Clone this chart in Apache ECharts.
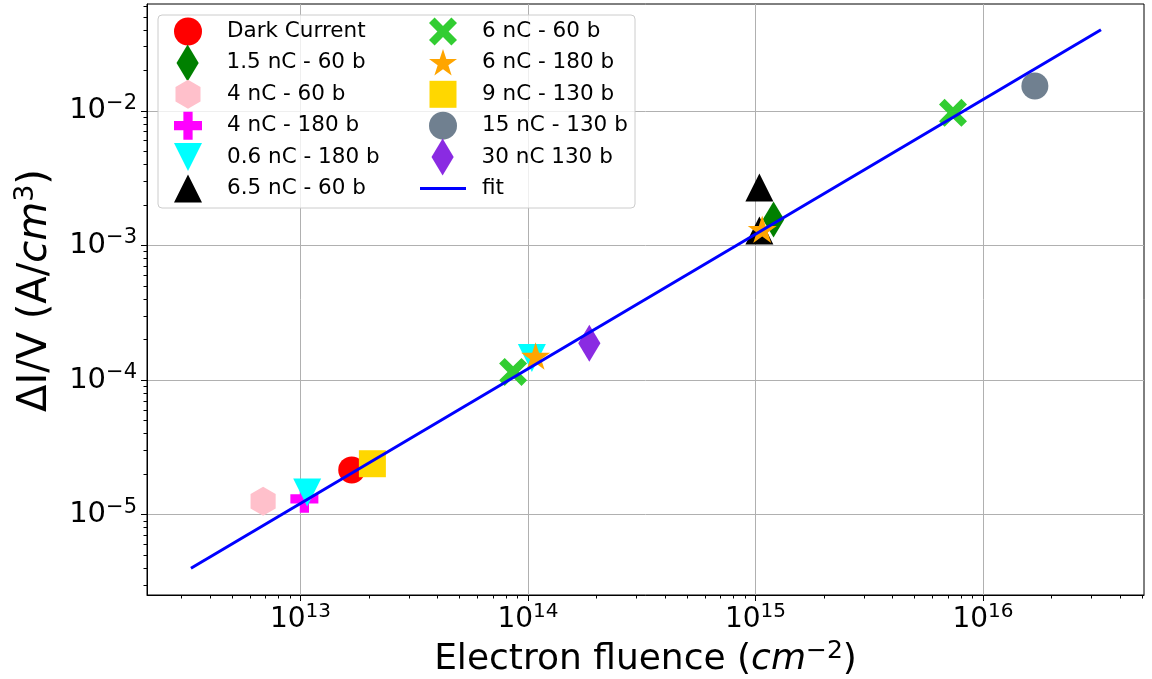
<!DOCTYPE html>
<html><head><meta charset="utf-8">
<script src="https://cdn.jsdelivr.net/npm/echarts@6/dist/echarts.min.js"></script>
<style>html,body{margin:0;padding:0;background:#fff}#c{width:1152px;height:679px}</style>
</head><body><div id="c"></div>
<script>
// ---- data ----
const darkCurrent   = [[1.68e13, 2.15e-5]];
const nc15_60       = [[1.20e15, 1.56e-3]];
const nc4_60        = [[6.85e12, 1.26e-5]];
const nc4_180       = [[1.04e13, 1.31e-5]];
const nc06_180      = [[1.07e13, 1.46e-5], [1.04e14, 1.46e-4]];
const nc65_60       = [[1.04e15, 2.69e-3], [1.04e15, 1.29e-3]];
const nc6_60        = [[8.60e13, 1.15e-4], [7.38e15, 9.67e-3]];
const nc6_180       = [[1.08e14, 1.51e-4], [1.07e15, 1.32e-3]];
const nc9_130       = [[2.07e13, 2.39e-5]];
const nc15_130      = [[1.69e16, 1.53e-2]];
const nc30_130      = [[1.86e14, 1.88e-4]];
const fitLine       = [[3.3e12, 4.0e-6], [3.3e16, 4.0e-2]];

const xMajorTicks = [1e13, 1e14, 1e15, 1e16];
const yMajorTicks = [1e-5, 1e-4, 1e-3, 1e-2];
const xMin = 2.115e12, xMax = 5.10e16;
const yMin = 2.53e-6, yMax = 0.0622;

function minorTicks(lo, hi) {
  const out = [];
  for (let e = Math.floor(Math.log10(lo)); e <= Math.ceil(Math.log10(hi)); e++) {
    for (let k = 2; k <= 9; k++) {
      const v = k * Math.pow(10, e);
      if (v >= lo && v <= hi) out.push(v);
    }
  }
  return out;
}
const xMinorTicks = minorTicks(xMin, xMax);
const yMinorTicks = minorTicks(yMin, yMax);

// ---- marker shapes ----
const P_HEX = 'path://M0,-1L0.866,-0.5L0.866,0.5L0,1L-0.866,0.5L-0.866,-0.5Z';
const P_DIAM = 'path://M0,-1L0.6,0L0,1L-0.6,0Z';
const P_PLUS = 'path://M-0.33,-1L0.33,-1L0.33,-0.33L1,-0.33L1,0.33L0.33,0.33L0.33,1L-0.33,1L-0.33,0.33L-1,0.33L-1,-0.33L-0.33,-0.33Z';
const P_X = 'path://M0,0.2L0.2,0L0.5,0.3L0.8,0L1,0.2L0.7,0.5L1,0.8L0.8,1L0.5,0.7L0.2,1L0,0.8L0.3,0.5Z';
const P_STAR = 'path://M0,-1L0.2245,-0.309L0.9511,-0.309L0.3633,0.118L0.5878,0.809L0,0.382L-0.5878,0.809L-0.3633,0.118L-0.9511,-0.309L-0.2245,-0.309Z';
const P_TRIDOWN = 'path://M0,0L1,0L0.5,1Z';

const FONT = 'DejaVu Sans';

function sc(name, data, symbol, size, color) {
  return {
    name, type: 'scatter', data, symbol, symbolSize: size, symbolKeepAspect: true,
    itemStyle: { color, opacity: 1 }, emphasis: { disabled: true }, z: 2
  };
}

const series = [
  sc('Dark Current', darkCurrent, 'circle', 27, '#ff0000'),
  sc('1.5 nC - 60 b', nc15_60, P_DIAM, 36, '#008000'),
  sc('4 nC - 60 b', nc4_60, P_HEX, 29, '#ffc0cb'),
  sc('4 nC - 180 b', nc4_180, P_PLUS, 28, '#ff00ff'),
  sc('0.6 nC - 180 b', nc06_180, P_TRIDOWN, 28, '#00ffff'),
  sc('6.5 nC - 60 b', nc65_60, 'triangle', 28, '#000000'),
  sc('6 nC - 60 b', nc6_60, P_X, 28, '#32cd32'),
  sc('6 nC - 180 b', nc6_180, P_STAR, 29, '#ffa500'),
  sc('9 nC - 130 b', nc9_130, 'rect', 27, '#ffd700'),
  sc('15 nC - 130 b', nc15_130, 'circle', 27, '#708090'),
  sc('30 nC 130 b', nc30_130, P_DIAM, 37, '#8a2be2'),
  {
    name: 'fit', type: 'line', data: fitLine, showSymbol: false, symbol: 'none',
    lineStyle: { color: '#0000ff', width: 3 }, itemStyle: { color: '#0000ff' },
    emphasis: { disabled: true }, z: 3
  }
];

// legend layout: [icon centre x, row index, icon w, icon h, icon override, top correction]
const legendLayout = [
  [188, 0, 28, 28], [188, 1, 23, 37], [188, 2, 25, 29], [188, 3, 28, 28], [188, 4, 28, 28], [188, 5, 28, 28],
  [443, 0, 28, 28], [443, 1, 28, 28], [443, 2, 27, 27], [443, 3, 28, 28], [443, 4, 23, 37], [443, 5, 46, 3, 'rect', -9.5]
];
const legendTextX = [227, 482];
const legends = series.map((s, i) => {
  const [cx, row, w, h, icon, dy] = legendLayout[i];
  const cy = 31.5 + row * 31.4;
  const textX = cx === 188 ? legendTextX[0] : legendTextX[1];
  const pad = textX - (cx + w / 2 + 5);
  const lg = {
    data: [s.name], orient: 'vertical', left: cx - w / 2, top: cy - h / 2 + (dy || 0), padding: 0,
    itemWidth: w, itemHeight: h, selectedMode: false, z: 100,
    textStyle: { fontFamily: FONT, fontSize: 21.5, color: '#000', padding: [0, 0, 0, pad] }
  };
  if (icon) lg.icon = icon;
  return lg;
});

const supFmt = v => {
  const e = Math.round(Math.log10(v));
  return '{b|10}{s|' + String(e).replace('-', '\u2212') + '}';
};
const tickRich = {
  b: { fontSize: 28, fontFamily: FONT, color: '#000', lineHeight: 36 },
  s: { fontSize: 20, fontFamily: FONT, color: '#000', lineHeight: 20, verticalAlign: 'top' }
};
const yTickRich = {
  b: { fontSize: 29, fontFamily: FONT, color: '#000', lineHeight: 36 },
  s: { fontSize: 21, fontFamily: FONT, color: '#000', lineHeight: 20, verticalAlign: 'top' }
};

const option = {
  animation: false,
  backgroundColor: '#fff',
  grid: { left: 147, right: 8, top: 4, bottom: 84, show: true, borderColor: '#000', borderWidth: 1,
          backgroundColor: 'transparent', outerBoundsMode: 'none', containLabel: false },
  legend: legends,
  graphic: [{
    type: 'rect', z: 90, shape: { x: 158, y: 15, width: 477, height: 193, r: 4 },
    style: { fill: 'rgba(255,255,255,0.8)', stroke: '#cccccc', lineWidth: 1 }
  }],
  xAxis: [
    {
      type: 'log', logBase: 10, min: xMin, max: xMax, position: 'bottom',
      name: 'Electron fluence ({i|cm}{s|\u22122})', nameLocation: 'middle', nameGap: 42,
      nameTextStyle: {
        fontFamily: FONT, fontSize: 36, color: '#000', lineHeight: 42,
        rich: {
          i: { fontFamily: FONT, fontSize: 36, fontStyle: 'italic', color: '#000', lineHeight: 42 },
          s: { fontFamily: FONT, fontSize: 25, color: '#000', lineHeight: 24, verticalAlign: 'top' }
        }
      },
      axisLine: { show: true, lineStyle: { color: '#000', width: 1 } },
      axisTick: { show: true, customValues: xMajorTicks, length: 6, lineStyle: { color: '#000' } },
      axisLabel: { customValues: xMajorTicks, formatter: supFmt, rich: tickRich, margin: 7 },
      splitLine: { show: true, lineStyle: { color: '#b0b0b0', width: 1 } }
    },
    {
      type: 'log', logBase: 10, min: xMin, max: xMax, position: 'bottom',
      axisLine: { show: false },
      axisTick: { show: true, customValues: xMinorTicks, length: 3.5, lineStyle: { color: '#000' } },
      axisLabel: { show: false }, splitLine: { show: false }
    }
  ],
  yAxis: [
    {
      type: 'log', logBase: 10, min: yMin, max: yMax, position: 'left',
      name: '\u0394I/V (A/{i|cm}{s|3})', nameLocation: 'middle', nameGap: 82, nameRotate: 90,
      nameTextStyle: {
        fontFamily: FONT, fontSize: 40, color: '#000', lineHeight: 46, padding: [0, 0, 0, 18],
        rich: {
          i: { fontFamily: FONT, fontSize: 40, fontStyle: 'italic', color: '#000', lineHeight: 46 },
          s: { fontFamily: FONT, fontSize: 27, color: '#000', lineHeight: 25, verticalAlign: 'top' }
        }
      },
      axisLine: { show: true, lineStyle: { color: '#000', width: 1 } },
      axisTick: { show: true, customValues: yMajorTicks, length: 6, lineStyle: { color: '#000' } },
      axisLabel: { customValues: yMajorTicks, formatter: supFmt, rich: yTickRich, margin: 10 },
      splitLine: { show: true, lineStyle: { color: '#b0b0b0', width: 1 } }
    },
    {
      type: 'log', logBase: 10, min: yMin, max: yMax, position: 'left',
      axisLine: { show: false },
      axisTick: { show: true, customValues: yMinorTicks, length: 3.5, lineStyle: { color: '#000' } },
      axisLabel: { show: false }, splitLine: { show: false }
    }
  ],
  series
};

const chart = echarts.init(document.getElementById('c'), null, { renderer: 'canvas' });
chart.setOption(option);
</script>
</body></html>
